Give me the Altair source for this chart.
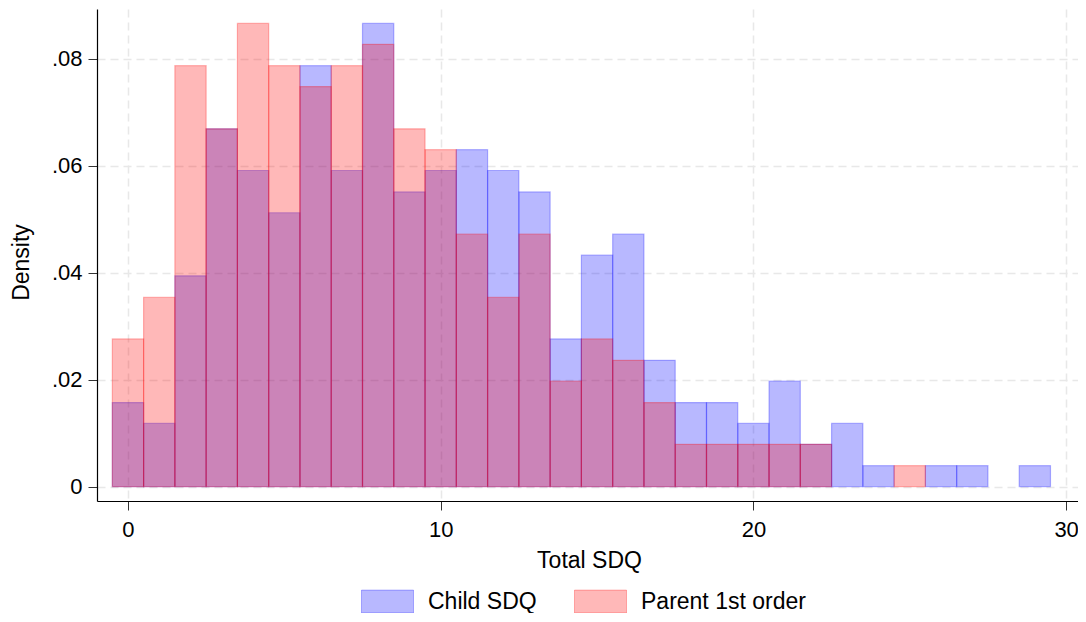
import altair as alt
import pandas as pd

# Histogram bins (centre of each unit-wide bin) and densities
bins = list(range(30))
child_density = [0.0157, 0.0118, 0.0394, 0.0669, 0.0591, 0.0512, 0.0787, 0.0591,
                 0.0866, 0.0551, 0.0591, 0.0630, 0.0591, 0.0551, 0.0276, 0.0433,
                 0.0472, 0.0236, 0.0157, 0.0157, 0.0118, 0.0197, 0.0079, 0.0118,
                 0.0039, 0.0, 0.0039, 0.0039, 0.0, 0.0039]
parent_density = [0.0276, 0.0354, 0.0787, 0.0669, 0.0866, 0.0787, 0.0748, 0.0787,
                  0.0827, 0.0669, 0.0630, 0.0472, 0.0354, 0.0472, 0.0197, 0.0276,
                  0.0236, 0.0157, 0.0079, 0.0079, 0.0079, 0.0079, 0.0079, 0.0,
                  0.0, 0.0039, 0.0, 0.0, 0.0, 0.0]
series_names = ["Child SDQ", "Parent 1st order"]
series_colors = ["rgba(0,0,255,0.28)", "rgba(255,0,0,0.28)"]
x_ticks = [0, 10, 20, 30]
y_ticks = [0, 0.02, 0.04, 0.06, 0.08]

rows = []
for name, vals in zip(series_names, [child_density, parent_density]):
    for b, v in zip(bins, vals):
        if v > 0:
            rows.append({"series": name, "score": b, "density": v})
df = pd.DataFrame(rows)

FONT = "Liberation Sans"
W, H = 981, 492

xscale = alt.Scale(domain=[-0.99, 30.38], nice=False, zero=False)
yscale = alt.Scale(domain=[-0.0027, 0.0893], nice=False, zero=False)

xaxis = alt.Axis(values=x_ticks, format="d", title="Total SDQ",
                 labelFont=FONT, labelFontSize=22, labelColor="black", labelPadding=9,
                 tickSize=9, tickColor="#333333", domainColor="black", domainWidth=1.2,
                 grid=True, gridColor="#e8e8e8", gridDash=[8, 5], gridWidth=1.5,
                 titleFont=FONT, titleFontSize=23, titleFontWeight="normal", titleColor="black",
                 titleX=492, titleY=66, titleBaseline="alphabetic", titleAlign="center")
yaxis = alt.Axis(values=y_ticks, title="Density",
                 labelExpr="datum.value == 0 ? '0' : replace(format(datum.value, '.2f'), '0.', '.')",
                 labelFont=FONT, labelFontSize=22, labelColor="black", labelPadding=6,
                 tickSize=9, tickColor="#333333", domainColor="black", domainWidth=1.2,
                 grid=True, gridColor="#e8e8e8", gridDash=[8, 5], gridWidth=1.5,
                 titleFont=FONT, titleFontSize=23, titleFontWeight="normal", titleColor="black",
                 titleAngle=270, titleX=-69, titleY=253, titleBaseline="alphabetic", titleAlign="center")

legend = alt.Legend(title=None, orient="none", legendX=264, legendY=566, direction="horizontal",
                    symbolType="M-1,-0.44H1V0.44H-1Z", symbolSize=2704, symbolStrokeWidth=1,
                    labelFont=FONT, labelFontSize=23, labelColor="black", labelOffset=14,
                    labelLimit=400, columnPadding=35, padding=0)

color = alt.Color("series:N", scale=alt.Scale(domain=series_names, range=series_colors), legend=legend)
stroke = alt.Stroke("series:N", scale=alt.Scale(domain=series_names, range=series_colors), legend=legend)

base = alt.Chart(df).transform_calculate(lo="datum.score - 0.5", hi="datum.score + 0.5")


def layer(name):
    return base.transform_filter(alt.datum.series == name).mark_rect(strokeWidth=1.2).encode(
        x=alt.X("lo:Q", scale=xscale, axis=xaxis),
        x2="hi:Q",
        y=alt.Y("density:Q", scale=yscale, axis=yaxis),
        y2=alt.datum(0),
        color=color,
        stroke=stroke,
    )


chart = alt.layer(layer(series_names[0]), layer(series_names[1])).properties(
    width=W, height=H,
    autosize=alt.AutoSizeParams(type="none"),
    padding={"left": 89, "top": 1, "right": 0, "bottom": 112},
    background="white",
).configure_view(stroke=None)

chart.save("out.html", embed_options={"renderer": "svg", "actions": False})
